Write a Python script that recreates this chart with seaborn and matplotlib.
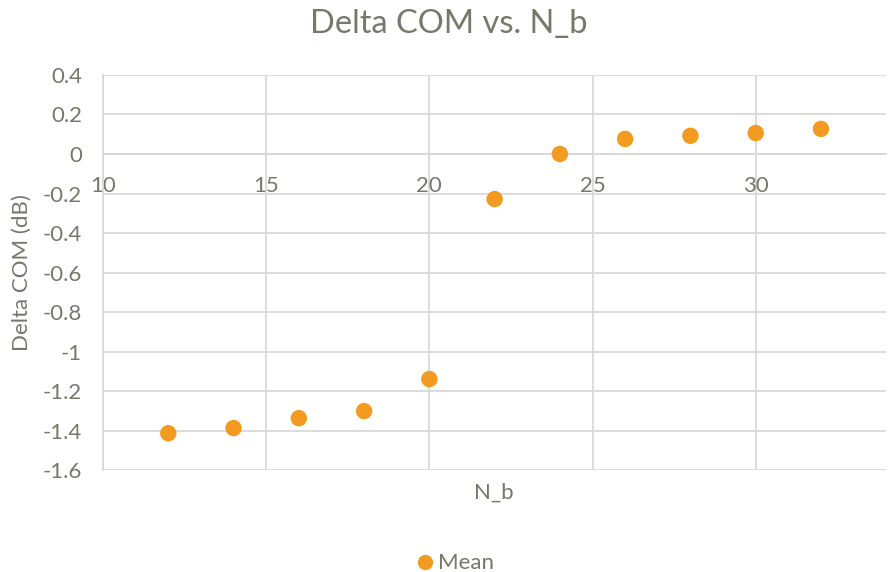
import matplotlib
matplotlib.use("Agg")
import matplotlib.pyplot as plt
import seaborn as sns
import pandas as pd

n_b = [12, 14, 16, 18, 20, 22, 24, 26, 28, 30, 32]
delta_com = [-1.413, -1.387, -1.337, -1.301, -1.139, -0.228, 0.0, 0.076, 0.092, 0.106, 0.127]
x_ticks = [10, 15, 20, 25, 30]
y_ticks = [0.4, 0.2, 0, -0.2, -0.4, -0.6, -0.8, -1, -1.2, -1.4, -1.6]

sns.set_theme(style="white")
plt.rcParams["font.family"] = ["Lato", "DejaVu Sans"]

text_color = "#78776a"
grid_color = "#d9d9d9"
point_color = "#F39A21"

df = pd.DataFrame({"N_b": n_b, "Delta COM": delta_com, "series": "Mean"})

fig = plt.figure(figsize=(8.88, 5.72), dpi=100)
ax = fig.add_axes([0.116, 0.178, 0.882, 0.691])

sns.scatterplot(data=df, x="N_b", y="Delta COM", hue="series",
                palette=[point_color], s=140, edgecolor="none", ax=ax,
                zorder=3, legend=True)

ax.set_xlim(10, 34)
ax.set_ylim(-1.6, 0.4)
ax.set_xticks(x_ticks)
ax.set_yticks(y_ticks)
ax.set_yticklabels([f"{v:g}" for v in y_ticks])
ax.grid(True, color=grid_color, linewidth=1.3)
ax.set_axisbelow(True)

for side in ["top", "right"]:
    ax.spines[side].set_visible(False)
for side in ["left", "bottom"]:
    ax.spines[side].set_color(grid_color)
    ax.spines[side].set_linewidth(1.3)
# the horizontal axis crosses at zero, with labels just below it
ax.spines["bottom"].set_position(("data", 0))
ax.axhline(-1.6, color=grid_color, linewidth=1.3, zorder=1)

ax.tick_params(axis="both", length=0, labelsize=16, labelcolor=text_color)
ax.tick_params(axis="x", pad=16)
ax.tick_params(axis="y", pad=15)

ax.set_xlabel("")
ax.set_ylabel("Delta COM (dB)", fontsize=16, color=text_color, labelpad=8)
fig.text(0.556, 0.138, "N_b", ha="center", va="center", fontsize=16, color=text_color)
fig.text(0.505, 0.958, "Delta COM vs. N_b", ha="center", va="center",
         fontsize=23.5, color=text_color)

ax.legend_.remove()
handle = plt.Line2D([], [], marker="o", linestyle="", markersize=11,
                    markerfacecolor=point_color, markeredgecolor="none")
fig.legend([handle], ["Mean"], loc="center", bbox_to_anchor=(0.51, 0.015),
           frameon=False, fontsize=16, labelcolor=text_color,
           handletextpad=0.0, handlelength=1.2)

fig.savefig("out.png", dpi=100)
